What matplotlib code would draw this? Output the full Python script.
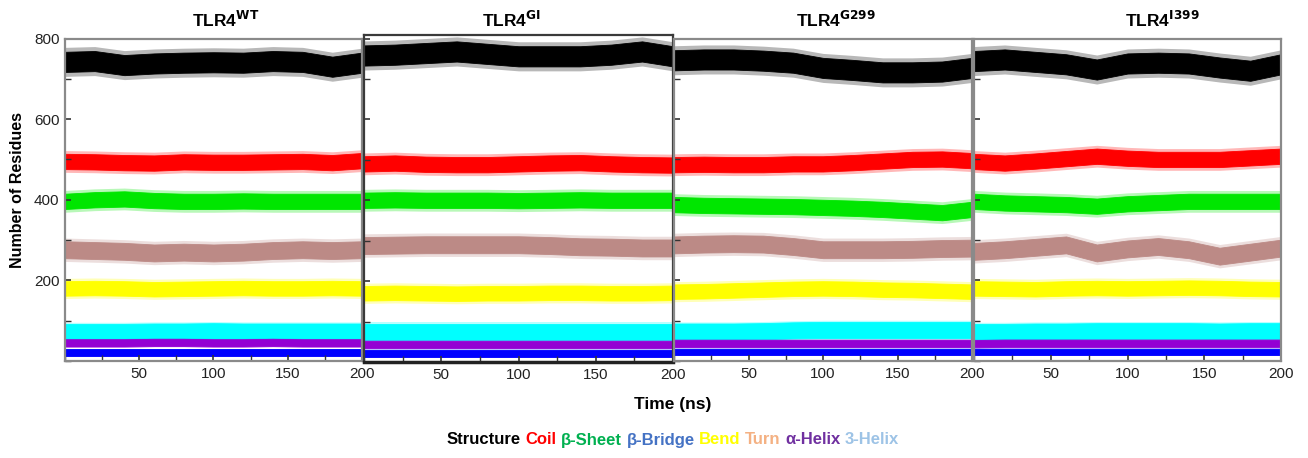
import matplotlib
matplotlib.use("Agg")
import matplotlib.pyplot as plt
from matplotlib.ticker import MultipleLocator, FixedLocator

# === Data: mean residue counts sampled every 20 ns, one row per system ===
time_ns = [0, 20, 40, 60, 80, 100, 120, 140, 160, 180, 200]
systems = ["WT", "GI", "G299", "I399"]

structure = [
    [742, 744, 734, 738, 740, 741, 740, 744, 742, 730, 740],
    [758, 760, 764, 768, 762, 756, 756, 756, 760, 768, 756],
    [746, 748, 748, 745, 740, 727, 722, 716, 716, 718, 727],
    [744, 748, 742, 736, 723, 738, 740, 738, 728, 720, 736],
]
coil = [
    [495, 494, 492, 491, 494, 493, 493, 494, 495, 492, 497],
    [490, 492, 489, 488, 488, 490, 492, 493, 490, 488, 487],
    [487, 488, 487, 487, 489, 489, 492, 496, 500, 501, 497],
    [495, 491, 496, 502, 508, 503, 500, 500, 500, 504, 508],
]
beta_sheet = [
    [396, 400, 402, 398, 396, 396, 397, 396, 396, 396, 396],
    [400, 401, 400, 400, 400, 399, 400, 401, 400, 400, 400],
    [388, 386, 385, 384, 383, 381, 379, 376, 372, 368, 376],
    [396, 392, 390, 388, 384, 390, 393, 396, 396, 396, 396],
]
turn = [
    [276, 274, 272, 268, 270, 268, 270, 274, 276, 274, 276],
    [288, 289, 290, 290, 290, 290, 288, 285, 284, 282, 282],
    [288, 290, 291, 290, 284, 276, 276, 276, 277, 279, 280],
    [272, 276, 282, 288, 268, 278, 284, 276, 260, 270, 280],
]
bend = [
    [180, 181, 180, 178, 179, 180, 181, 180, 180, 181, 180],
    [170, 171, 170, 169, 170, 170, 171, 171, 170, 170, 171],
    [172, 173, 175, 177, 179, 180, 179, 177, 176, 174, 172],
    [180, 179, 178, 180, 181, 180, 181, 182, 181, 179, 178],
]
helix_3 = [
    [72, 72, 72, 73, 73, 74, 73, 73, 73, 73, 73],
    [75, 75, 75, 75, 75, 75, 75, 75, 75, 75, 75],
    [73, 73, 73, 74, 76, 77, 77, 77, 77, 77, 77],
    [72, 72, 73, 73, 74, 74, 74, 74, 73, 74, 74],
]
alpha_helix = [
    [45, 45, 45, 46, 46, 45, 45, 46, 45, 45, 45],
    [44, 44, 44, 44, 44, 44, 44, 44, 44, 44, 44],
    [44, 44, 44, 44, 44, 44, 44, 44, 44, 44, 44],
    [43, 44, 44, 44, 44, 44, 44, 44, 44, 44, 44],
]
beta_bridge = [
    [21, 21, 21, 21, 21, 21, 21, 21, 21, 21, 21],
    [21, 21, 21, 21, 21, 21, 21, 21, 21, 21, 21],
    [23, 23, 23, 23, 23, 23, 23, 23, 23, 23, 23],
    [23, 23, 23, 23, 23, 23, 23, 23, 23, 23, 23],
]

# fluctuation half-width of each trace (residues): dense core and occasional excursions
spread = {"Structure": 25, "Coil": 19, "β-Sheet": 19, "Turn": 21,
          "Bend": 18, "3-Helix": 20, "α-Helix": 9, "β-Bridge": 8}
spread_max = {"Structure": 36, "Coil": 27, "β-Sheet": 27, "Turn": 29,
              "Bend": 25, "3-Helix": 24, "α-Helix": 11, "β-Bridge": 10}

# drawing order: back to front
series = [
    ("Structure", structure, "#000000"),
    ("Coil", coil, "#ff0000"),
    ("β-Sheet", beta_sheet, "#00e600"),
    ("Turn", turn, "#bc8a86"),
    ("Bend", bend, "#ffff00"),
    ("3-Helix", helix_3, "#00ffff"),
    ("α-Helix", alpha_helix, "#9400d3"),
    ("β-Bridge", beta_bridge, "#0000ff"),
]

legend_items = [("Structure", "#000000"), ("Coil", "#ff0000"), ("β-Sheet", "#00b050"),
                ("β-Bridge", "#4472c4"), ("Bend", "#ffff00"), ("Turn", "#f4b183"),
                ("α-Helix", "#7030a0"), ("3-Helix", "#9dc3e6")]

# === Layout (pixels) ===
W, H = 1308, 458
panel_px = [(65, 362, 38.5, 361), (364, 673, 35, 362), (674, 972, 39, 361), (974, 1281, 38.5, 361)]
title_x = [226, 511, 836, 1162]
frame_col = ["#8a8a8a", "#3a3a3a", "#8a8a8a", "#8a8a8a"]

plt.rcParams["font.family"] = ["Liberation Sans", "DejaVu Sans"]
fig = plt.figure(figsize=(W / 100, H / 100), dpi=100)

for i, (x0, x1, ytop, ybot) in enumerate(panel_px):
    ax = fig.add_axes([x0 / W, 1 - ybot / H, (x1 - x0) / W, (ybot - ytop) / H])
    for name, data, color in series:
        mean = data[i]
        # faint outer envelope, then solid core
        ax.fill_between(time_ns, [m - spread_max[name] for m in mean],
                        [m + spread_max[name] for m in mean],
                        color=color, alpha=0.28, lw=0)
        ax.fill_between(time_ns, [m - spread[name] for m in mean],
                        [m + spread[name] for m in mean],
                        color=color, lw=0.6, edgecolor=color)
    ax.set_xlim(0, 200)
    top = 800 + (38.5 - ytop) / 0.4025
    ax.set_ylim(0, top)
    ax.xaxis.set_major_locator(FixedLocator([50, 100, 150, 200]))
    ax.xaxis.set_minor_locator(MultipleLocator(25))
    ax.yaxis.set_major_locator(FixedLocator([200, 400, 600, 800]))
    ax.yaxis.set_minor_locator(MultipleLocator(100))
    ax.tick_params(which="both", direction="in", color="#333333", labelsize=11,
                   labelcolor="#222222", pad=4)
    ax.tick_params(which="major", length=4, width=1.2)
    ax.tick_params(which="minor", length=4, width=1.0)
    if i > 0:
        ax.tick_params(axis="y", labelleft=False)
    for sp in ax.spines.values():
        sp.set_color(frame_col[i])
        sp.set_linewidth(1.6)
    if i == 1:
        ax.spines["bottom"].set_color("#222222")
        ax.spines["bottom"].set_linewidth(2.5)
    fig.text(title_x[i] / W, 1 - 20 / H, r"TLR4$^{\mathbf{%s}}$" % systems[i],
             ha="center", va="center", fontsize=12.5, fontweight="bold")

fig.text(18 / W, 1 - 190 / H, "Number of Residues", rotation=90, ha="center", va="center",
         fontsize=11.5, fontweight="bold")
fig.text(673 / W, 1 - 404 / H, "Time (ns)", ha="center", va="center",
         fontsize=12.5, fontweight="bold")

# coloured-word legend along the bottom
renderer = fig.canvas.get_renderer()
x = 447
for label, color in legend_items:
    t = fig.text(x / W, 1 - 440 / H, label, ha="left", va="center", color=color,
                 fontsize=12, fontweight="bold")
    bb = t.get_window_extent(renderer=renderer)
    x += bb.width + 4.5

fig.savefig("out.png", dpi=100)
